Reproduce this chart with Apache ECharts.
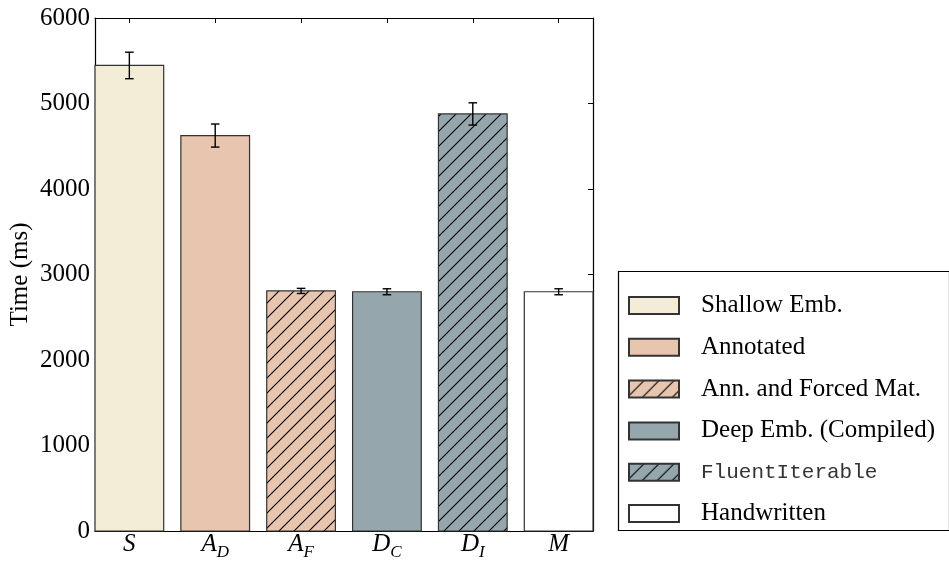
<!DOCTYPE html>
<html>
<head>
<meta charset="utf-8">
<script src="https://cdn.jsdelivr.net/npm/echarts@6/dist/echarts.min.js"></script>
<style>html,body{margin:0;padding:0;background:#fff}#c{width:949px;height:561px}</style>
</head>
<body>
<div id="c"></div>
<script>
// ---- data ----
const categories = ['S', 'A_D', 'A_F', 'D_C', 'D_I', 'M'];
const seriesNames = ['Shallow Emb.', 'Annotated', 'Ann. and Forced Mat.', 'Deep Emb. (Compiled)', 'FluentIterable', 'Handwritten'];
const timesMs = [5445, 4625, 2808, 2798, 4878, 2798];
const errorsMs = [155, 135, 30, 35, 130, 35];
const yTicks = [0, 1000, 2000, 3000, 4000, 5000, 6000];

const SERIF = '"Liberation Serif", "DejaVu Serif", serif';
const MONO = '"Liberation Mono", "DejaVu Sans Mono", monospace';
const cShallow = '#f3ecd6', cAnn = '#e8c5ae', cDeep = '#95a7ac';

function hatch(bg, s) {
  const cv = document.createElement('canvas');
  cv.width = s; cv.height = s;
  const g = cv.getContext('2d');
  g.fillStyle = bg; g.fillRect(0, 0, s, s);
  g.strokeStyle = '#000'; g.lineWidth = 1.1;
  g.beginPath();
  g.moveTo(0, s); g.lineTo(s, 0);
  g.moveTo(-2, 2); g.lineTo(2, -2);
  g.moveTo(s - 2, s + 2); g.lineTo(s + 2, s - 2);
  g.stroke();
  return { image: cv, repeat: 'repeat' };
}
const fills = [cShallow, cAnn, hatch(cAnn, 15), cDeep, hatch(cDeep, 15), '#ffffff'];

const chart = echarts.init(document.getElementById('c'), null, { renderer: 'canvas' });

function renderBar(params, api) {
  const x = api.value(0), v = api.value(1), e = api.value(2);
  const tl = api.coord([x - 0.4, v]);
  const br = api.coord([x + 0.4, 0]);
  const lo = api.coord([x, v - e]);
  const hi = api.coord([x, v + e]);
  const capL = api.coord([x - 0.05, v])[0];
  const capR = api.coord([x + 0.05, v])[0];
  const fill = fills[params.seriesIndex];
  return {
    type: 'group',
    children: [
      { type: 'rect', shape: { x: tl[0], y: tl[1], width: br[0] - tl[0], height: br[1] - tl[1] },
        style: { fill: fill, stroke: '#333', lineWidth: 1.2 } },
      { type: 'line', shape: { x1: lo[0], y1: lo[1], x2: hi[0], y2: hi[1] }, style: { stroke: '#000', lineWidth: 1.4 } },
      { type: 'line', shape: { x1: capL, y1: lo[1], x2: capR, y2: lo[1] }, style: { stroke: '#000', lineWidth: 1.4 } },
      { type: 'line', shape: { x1: capL, y1: hi[1], x2: capR, y2: hi[1] }, style: { stroke: '#000', lineWidth: 1.4 } }
    ]
  };
}

const series = categories.map((c, i) => ({
  type: 'custom',
  name: seriesNames[i],
  renderItem: renderBar,
  itemStyle: { color: fills[i], borderColor: '#333', borderWidth: 1 },
  encode: { x: 0, y: 1 },
  data: [[i, timesMs[i], errorsMs[i]]],
  z: 2
}));

function catLabel(v) {
  const c = categories[v];
  if (c === undefined) return '';
  const p = c.split('_');
  return p.length > 1 ? '{a|' + p[0] + '}{s|' + p[1] + '}' : '{a|' + p[0] + '}';
}

const xCommon = {
  type: 'value', min: -0.4, max: 5.4,
  axisLine: { show: true, onZero: false, lineStyle: { color: '#000', width: 1.2 } },
  splitLine: { show: false },
  axisTick: { show: true, inside: true, length: 5, customValues: [0, 1, 2, 3, 4, 5], lineStyle: { color: '#000' } }
};
const yCommon = {
  type: 'value', min: 0, max: 6000, interval: 1000,
  axisLine: { show: true, onZero: false, lineStyle: { color: '#000', width: 1.2 } },
  splitLine: { show: false },
  axisTick: { show: true, inside: true, length: 5, lineStyle: { color: '#000' } }
};

chart.setOption({
  animation: false,
  backgroundColor: '#fff',
  grid: { left: 95, right: 356, top: 18, bottom: 30, containLabel: false, outerBoundsMode: 'none' },
  xAxis: [
    Object.assign({}, xCommon, {
      position: 'bottom',
      axisLabel: {
        show: true, margin: 2, customValues: [0, 1, 2, 3, 4, 5],
        formatter: catLabel,
        rich: {
          a: { fontFamily: SERIF, fontStyle: 'italic', fontSize: 25, color: '#000', verticalAlign: 'bottom', lineHeight: 24 },
          s: { fontFamily: SERIF, fontStyle: 'italic', fontSize: 17, color: '#000', verticalAlign: 'bottom', lineHeight: 18, padding: [0, 0, -4, 0] }
        }
      }
    }),
    Object.assign({}, xCommon, { position: 'top', axisLabel: { show: false } })
  ],
  yAxis: [
    Object.assign({}, yCommon, {
      position: 'left',
      name: 'Time (ms)', nameLocation: 'middle', nameGap: 62, nameMoveOverlap: false,
      nameTextStyle: { fontFamily: SERIF, fontSize: 25, color: '#000' },
      axisLabel: { show: true, margin: 5, fontFamily: SERIF, fontSize: 25, color: '#000', formatter: v => String(v) }
    }),
    Object.assign({}, yCommon, { position: 'right', axisLabel: { show: false } })
  ],
  legend: {
    orient: 'vertical', left: 628, top: 293,
    itemWidth: 50, itemHeight: 17, itemGap: 16.8,
    icon: 'rect',
    padding: 0,
    textStyle: { fontFamily: SERIF, fontSize: 25, color: '#000', padding: [0, 0, 0, 17], lineHeight: 24 },
    data: seriesNames.map((n, i) => i === 4
      ? { name: n, textStyle: { fontFamily: MONO, fontSize: 21, color: '#333' } }
      : { name: n }),
    selectedMode: false
  },
  graphic: [
    { type: 'rect', shape: { x: 618.5, y: 271.5, width: 331, height: 259 },
      style: { fill: 'none', stroke: '#000', lineWidth: 1.2 }, z: -1 }
  ],
  series: series
});
</script>
</body>
</html>
